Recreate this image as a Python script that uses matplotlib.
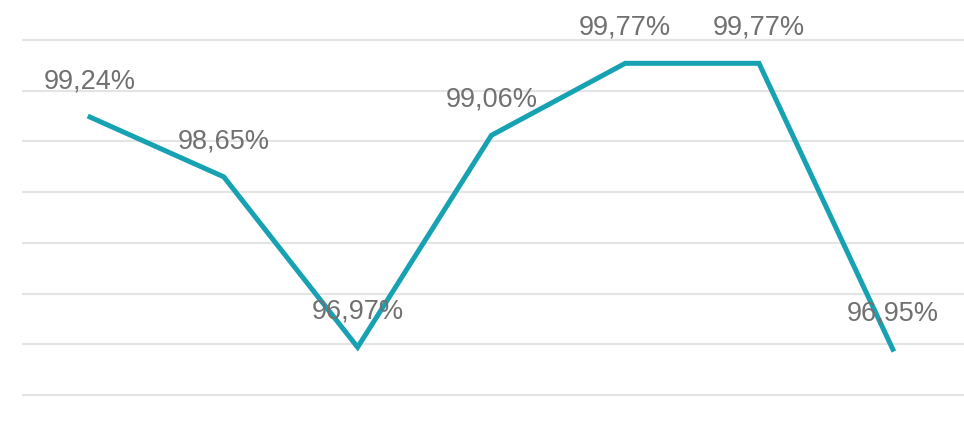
import matplotlib
matplotlib.use("Agg")
import matplotlib.pyplot as plt
from matplotlib.ticker import MultipleLocator

categories = ["1", "2", "3", "4", "5", "6", "7"]
values = [99.24, 98.65, 96.97, 99.06, 99.77, 99.77, 96.95]
labels = ["99,24%", "98,65%", "96,97%", "99,06%", "99,77%", "99,77%", "96,95%"]

fig = plt.figure(figsize=(9.64, 4.42), dpi=100)
ax = fig.add_axes([22/964, 0, 1 - 22/964, 1])

x = list(range(len(categories)))
ax.plot(x, values, color="#17a2b4", lw=3.6, solid_joinstyle="miter", zorder=3)
for xi, v, lab in zip(x, values, labels):
    ax.annotate(lab, (xi, v), xytext=(0, 25.5), textcoords="offset points",
                ha="center", va="center", fontsize=19.5, color="#707070",
                family="Liberation Sans", zorder=4)

ax.set_xlim(-(90 - 22) / 133.8, (964 - 90) / 133.8)
ax.set_ylim(100 - 402 / 101.4, 100 + 40 / 101.4)
ax.yaxis.set_major_locator(MultipleLocator(0.5))
ax.grid(axis="y", color="#e4e4e4", lw=1.6)
ax.set_axisbelow(True)
ax.tick_params(left=False, bottom=False, labelleft=False, labelbottom=False)
for s in ax.spines.values():
    s.set_visible(False)

fig.savefig("out.png", dpi=100)
